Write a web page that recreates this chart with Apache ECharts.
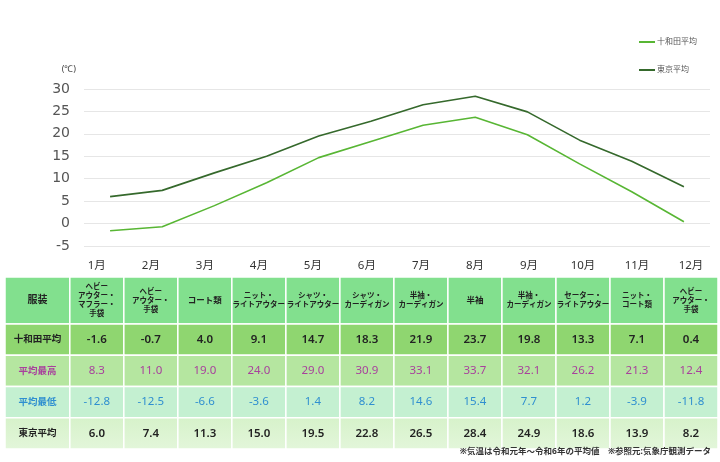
<!DOCTYPE html>
<html>
<head>
<meta charset="utf-8">
<script src="https://cdn.jsdelivr.net/npm/echarts@6/dist/echarts.min.js"></script>
<style>
  html, body { margin: 0; padding: 0; background: #fff; }
  #chart-container { width: 720px; height: 462px; }
</style>
</head>
<body>
<div id="chart-container"></div>
<script>
var months = ["1月", "2月", "3月", "4月", "5月", "6月", "7月", "8月", "9月", "10月", "11月", "12月"];
var clothing = [
  "ヘビー\nアウター・\nマフラー・\n手袋",
  "ヘビー\nアウター・\n手袋",
  "コート類",
  "ニット・\nライトアウター",
  "シャツ・\nライトアウター",
  "シャツ・\nカーディガン",
  "半袖・\nカーディガン",
  "半袖",
  "半袖・\nカーディガン",
  "セーター・\nライトアウター",
  "ニット・\nコート類",
  "ヘビー\nアウター・\n手袋"
];
var towadaAvg = [-1.6, -0.7, 4.0, 9.1, 14.7, 18.3, 21.9, 23.7, 19.8, 13.3, 7.1, 0.4];
var towadaMax = [8.3, 11.0, 19.0, 24.0, 29.0, 30.9, 33.1, 33.7, 32.1, 26.2, 21.3, 12.4];
var towadaMin = [-12.8, -12.5, -6.6, -3.6, 1.4, 8.2, 14.6, 15.4, 7.7, 1.2, -3.9, -11.8];
var tokyoAvg = [6.0, 7.4, 11.3, 15.0, 19.5, 22.8, 26.5, 28.4, 24.9, 18.6, 13.9, 8.2];
var rowLabels = ["服装", "十和田平均", "平均最高", "平均最低", "東京平均"];
var seriesNames = ["十和田平均", "東京平均"];

var dom = document.getElementById("chart-container");
var myChart = echarts.init(dom, null, { renderer: "canvas" });

var JP = "'Noto Sans', 'Noto Sans CJK JP', sans-serif";
var rowFill = [
  "#82e08e",
  "#8fd670",
  "#b5e6a0",
  "#c4f0d1",
  new echarts.graphic.LinearGradient(0, 0, 0, 1, [
    { offset: 0, color: "#d6f2ca" },
    { offset: 1, color: "#e3f6da" }
  ])
];
var rowText = ["#222", "#222", "#a8419c", "#2f8fd0", "#222"];

// table cells: [col, row, text]  (col -1 = label column)
var cells = [];
rowLabels.forEach(function (lab, r) { cells.push([-1, r, lab]); });
var rows = [clothing, towadaAvg, towadaMax, towadaMin, tokyoAvg];
rows.forEach(function (arr, r) {
  arr.forEach(function (v, c) {
    cells.push([c, r, r === 0 ? v : v.toFixed(1)]);
  });
});
var monthCells = months.map(function (m, i) { return [i, 0, m]; });

function cellBox(api, c, r) {
  var top = r === 0 ? 0 : 1.5 + (r - 1);
  var bot = r === 0 ? 1.5 : top + 1;
  var left = c < 0 ? -1.2 : c;
  var right = c < 0 ? 0 : c + 1;
  var p0 = api.coord([left, top]);
  var p1 = api.coord([right, bot]);
  return { x: p0[0], y: p0[1], width: p1[0] - p0[0], height: p1[1] - p0[1] };
}

var option = {
  animation: false,
  title: {
    text: "※気温は令和元年～令和6年の平均値　※参照元:気象庁観測データ",
    right: 4,
    bottom: 1,
    textStyle: { fontSize: 8.5, fontWeight: "bold", color: "#333", fontFamily: JP }
  },
  legend: {
    orient: "vertical",
    left: 634,
    top: 33,
    itemGap: 20,
    itemWidth: 16,
    itemHeight: 2,
    icon: "rect",
    textStyle: { fontSize: 8, color: "#555", fontFamily: JP, padding: [0, 0, 0, -3] },
    data: seriesNames
  },
  grid: [
    { left: 84, right: 10, top: 89, bottom: 216 },
    { left: 5, right: 2, top: 277, bottom: 13 }
  ],
  xAxis: [
    {
      gridIndex: 0,
      type: "category",
      data: months,
      boundaryGap: true,
      axisLine: { show: false },
      axisTick: { show: false },
      axisLabel: { show: false }
    },
    { gridIndex: 1, type: "value", min: -1.2, max: 12, show: false }
  ],
  yAxis: [
    {
      gridIndex: 0,
      type: "value",
      min: -5,
      max: 30,
      interval: 5,
      name: "(℃)",
      nameGap: 15,
      nameTextStyle: { fontSize: 9, color: "#444", align: "right", padding: [0, 8, 0, 0], fontFamily: JP },
      axisLine: { show: false },
      axisTick: { show: false },
      axisLabel: { fontSize: 14, color: "#555", margin: 14, fontFamily: "'DejaVu Sans', sans-serif" },
      splitLine: { lineStyle: { color: "#e6e6e6", width: 1.2 } }
    },
    { gridIndex: 1, type: "value", min: 0, max: 5.5, inverse: true, show: false }
  ],
  series: [
    {
      name: seriesNames[0],
      type: "line",
      data: towadaAvg,
      symbol: "none",
      lineStyle: { color: "#58b634", width: 1.6 },
      itemStyle: { color: "#58b634" }
    },
    {
      name: seriesNames[1],
      type: "line",
      data: tokyoAvg,
      symbol: "none",
      lineStyle: { color: "#35692c", width: 1.6 },
      itemStyle: { color: "#35692c" }
    },
    {
      type: "custom",
      xAxisIndex: 1,
      yAxisIndex: 1,
      data: cells,
      silent: true,
      renderItem: function (params, api) {
        var c = api.value(0);
        var r = api.value(1);
        var txt = cells[params.dataIndex][2];
        var b = cellBox(api, c, r);
        var size, weight;
        if (c < 0) {
          size = r === 0 ? 10 : 9.5;
          weight = "bold";
        } else if (r === 0) {
          size = txt.indexOf("\n") < 0 ? 8.5 : 7.5;
          weight = "bold";
        } else {
          size = 11.5;
          weight = (r === 1 || r === 4) ? 600 : "normal";
        }
        return {
          type: "group",
          children: [
            {
              type: "rect",
              shape: b,
              style: { fill: rowFill[r], stroke: "#fff", lineWidth: 1.5 }
            },
            {
              type: "text",
              style: {
                text: txt,
                x: b.x + b.width / 2,
                y: b.y + b.height / 2,
                align: "center",
                verticalAlign: "middle",
                fill: rowText[r],
                fontSize: size,
                fontWeight: weight,
                lineHeight: r === 0 && c >= 0 ? 9 : size + 2,
                fontFamily: JP
              }
            }
          ]
        };
      }
    },
    {
      type: "custom",
      xAxisIndex: 1,
      yAxisIndex: 1,
      data: monthCells,
      silent: true,
      renderItem: function (params, api) {
        var p = api.coord([api.value(0) + 0.5, 0]);
        return {
          type: "text",
          style: {
            text: monthCells[params.dataIndex][2],
            x: p[0],
            y: p[1] - 11,
            align: "center",
            verticalAlign: "middle",
            fill: "#333",
            fontSize: 11.5,
            fontFamily: JP
          }
        };
      }
    }
  ]
};

myChart.setOption(option);
window.addEventListener("resize", myChart.resize);
</script>
</body>
</html>
